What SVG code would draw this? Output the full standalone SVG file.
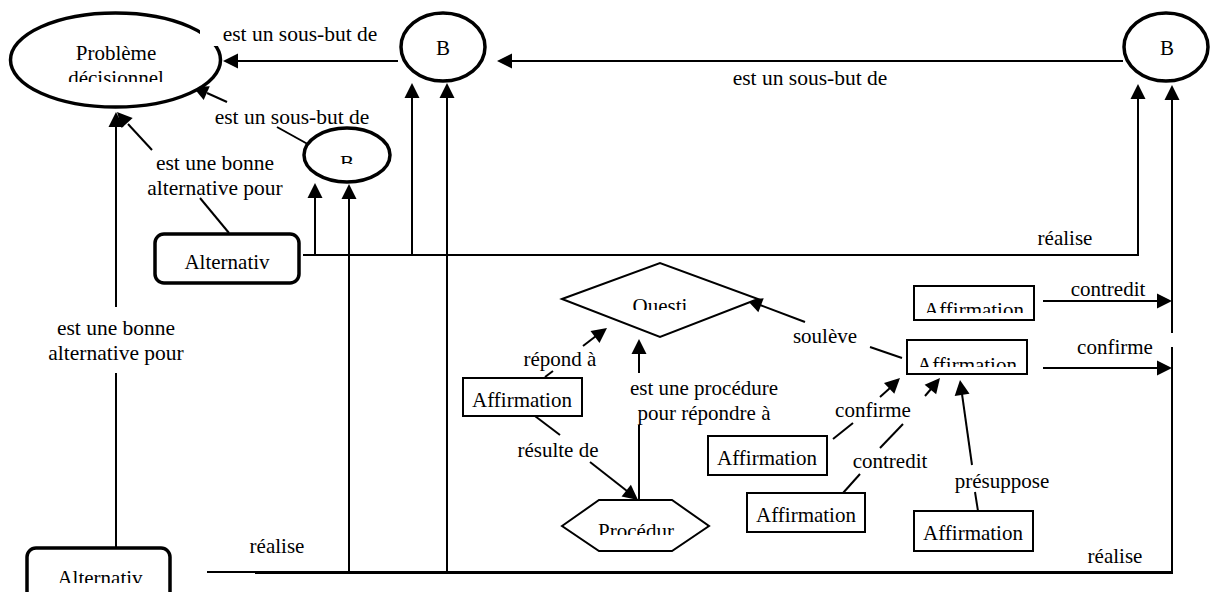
<svg xmlns="http://www.w3.org/2000/svg" width="1214" height="592" viewBox="0 0 1214 592">
<style>
.thick{fill:#fff;stroke:#000;stroke-width:3.5}
.box{fill:#fff;stroke:#000;stroke-width:2}
.c{fill:none;stroke:#000;stroke-width:2}
.ah{fill:#000;stroke:none}
.m{fill:#fff;stroke:none}
</style>
<rect width="1214" height="592" fill="#fff"/>

<g id="connectors">
  <line class="c" x1="398" y1="61" x2="236" y2="61"/>
  <polygon class="ah" points="223,61 238,53.5 238,68.5"/>
  <line class="c" x1="1123" y1="61" x2="510" y2="61"/>
  <polygon class="ah" points="497,61 512,53.5 512,68.5"/>
  <line class="c" x1="313" y1="147" x2="277" y2="127"/>
  <line class="c" x1="227" y1="102" x2="207" y2="93"/>
  <polygon class="ah" points="193,87 209.75,86.2 203.69,99.92"/>
  <line class="c" x1="229" y1="233" x2="200" y2="198"/>
  <line class="c" x1="152" y1="150" x2="128" y2="124"/>
  <polygon class="ah" points="117,112 132.68,117.95 121.64,128.11"/>
  <line class="c" x1="116" y1="548" x2="116" y2="373"/>
  <line class="c" x1="116" y1="307" x2="116" y2="126"/>
  <polygon class="ah" points="116,112 108.5,127 123.5,127"/>
  <line class="c" x1="303" y1="255" x2="1139" y2="255"/>
  <line class="c" x1="315" y1="256" x2="315" y2="197"/>
  <polygon class="ah" points="315,183 307.5,198 322.5,198"/>
  <line class="c" x1="412" y1="256" x2="412" y2="97"/>
  <polygon class="ah" points="412,83 404.5,98 419.5,98"/>
  <line class="c" x1="1138" y1="256" x2="1138" y2="98"/>
  <polygon class="ah" points="1138,84 1130.5,99 1145.5,99"/>
  <line class="c" x1="207" y1="572" x2="1173" y2="572"/>
  <line class="c" x1="255" y1="573" x2="1173" y2="573"/>
  <line class="c" x1="349" y1="573" x2="349" y2="198"/>
  <polygon class="ah" points="349,184 341.5,199 356.5,199"/>
  <line class="c" x1="447" y1="573" x2="447" y2="97"/>
  <polygon class="ah" points="447,83 439.5,98 454.5,98"/>
  <line class="c" x1="1172" y1="573" x2="1172" y2="347"/>
  <line class="c" x1="1172" y1="333" x2="1172" y2="99"/>
  <polygon class="ah" points="1172,85 1164.5,100 1179.5,100"/>
  <line class="c" x1="1043" y1="301" x2="1158" y2="301"/>
  <polygon class="ah" points="1172,301 1157,293.5 1157,308.5"/>
  <line class="c" x1="1043" y1="368" x2="1158" y2="368"/>
  <polygon class="ah" points="1172,368 1157,360.5 1157,375.5"/>
  <line class="c" x1="902" y1="358" x2="870" y2="347"/>
  <line class="c" x1="805" y1="322" x2="760" y2="305"/>
  <polygon class="ah" points="747,300 763.69,298.31 758.37,312.33"/>
  <line class="c" x1="545" y1="377" x2="553" y2="371"/>
  <line class="c" x1="583" y1="346" x2="596" y2="336"/>
  <polygon class="ah" points="607,328 599.5,343 590.5,331"/>
  <line class="c" x1="639" y1="500" x2="639" y2="425"/>
  <line class="c" x1="639" y1="373" x2="639" y2="353"/>
  <polygon class="ah" points="639,339 631.5,354 646.5,354"/>
  <line class="c" x1="527" y1="410" x2="560" y2="435"/>
  <line class="c" x1="590" y1="462" x2="627" y2="491"/>
  <polygon class="ah" points="638,500 621.58,496.57 630.9,484.81"/>
  <line class="c" x1="833" y1="439" x2="853" y2="423"/>
  <line class="c" x1="880" y1="397" x2="890" y2="388"/>
  <polygon class="ah" points="900,378 894.3,393.77 883.96,382.89"/>
  <line class="c" x1="843" y1="493" x2="860" y2="474"/>
  <line class="c" x1="880" y1="448" x2="903" y2="424"/>
  <line class="c" x1="925" y1="396" x2="931" y2="389"/>
  <polygon class="ah" points="940,378 936.16,394.32 924.64,384.72"/>
  <line class="c" x1="978" y1="511" x2="975" y2="492"/>
  <line class="c" x1="972" y1="465" x2="962" y2="394"/>
  <polygon class="ah" points="960,380 969.53,393.8 954.67,395.9"/>
</g>

<g id="n_probleme">
  <ellipse class="thick" cx="115.5" cy="60" rx="105" ry="47"/>
  <text x="116" y="60" font-family="Liberation Serif" font-size="21" text-anchor="middle">Problème</text>
  <text x="116" y="85" font-family="Liberation Serif" font-size="21" text-anchor="middle">décisionnel</text>
  <rect class="m" x="55" y="82" width="122" height="8"/>
</g>
<g id="n_b_middle">
  <ellipse class="thick" cx="443" cy="47" rx="42" ry="34"/>
  <text x="443" y="55" font-family="Liberation Serif" font-size="21" text-anchor="middle">B</text>
</g>
<g id="n_b_right">
  <ellipse class="thick" cx="1166" cy="47" rx="42" ry="34"/>
  <text x="1167" y="55" font-family="Liberation Serif" font-size="21" text-anchor="middle">B</text>
</g>
<g id="n_b_small">
  <ellipse class="thick" cx="347" cy="155" rx="43" ry="27"/>
  <text x="347" y="170" font-family="Liberation Serif" font-size="21" text-anchor="middle">B</text>
  <rect class="m" x="333" y="164" width="28" height="8"/>
</g>
<g id="n_alt_upper">
  <rect class="thick" x="155" y="234" width="144" height="49" rx="9"/>
  <text x="227" y="269" font-family="Liberation Serif" font-size="21" text-anchor="middle">Alternativ</text>
</g>
<g id="n_alt_lower">
  <rect class="thick" x="27" y="548" width="143" height="62" rx="9"/>
  <text x="100" y="585" font-family="Liberation Serif" font-size="21" text-anchor="middle">Alternativ</text>
  <rect class="m" x="40" y="583" width="120" height="9"/>
</g>
<g id="n_question">
  <polygon class="box" points="562,299 660,263 758,299 660,337"/>
  <text x="660" y="313" font-family="Liberation Serif" font-size="21" text-anchor="middle">Questi</text>
  <rect class="m" x="626" y="310" width="68" height="8"/>
</g>
<g id="n_procedure">
  <polygon class="box" points="562,526 599,500 672,500 709,526 672,551 599,551"/>
  <text x="636" y="538" font-family="Liberation Serif" font-size="21" text-anchor="middle">Procédur</text>
  <rect class="m" x="592" y="535" width="88" height="6"/>
</g>
<g id="n_aff1">
  <rect class="box" x="914" y="286" width="120" height="34"/>
  <text x="974" y="317" font-family="Liberation Serif" font-size="21" text-anchor="middle">Affirmation</text>
  <rect class="m" x="916" y="313" width="116" height="5"/>
</g>
<g id="n_aff2">
  <rect class="box" x="907" y="340" width="120" height="34"/>
  <text x="967" y="372" font-family="Liberation Serif" font-size="21" text-anchor="middle">Affirmation</text>
  <rect class="m" x="909" y="367" width="116" height="5"/>
</g>
<g id="n_aff3">
  <rect class="box" x="463" y="378" width="119" height="38"/>
  <text x="522" y="407" font-family="Liberation Serif" font-size="21" text-anchor="middle">Affirmation</text>
</g>
<g id="n_aff4">
  <rect class="box" x="708" y="436" width="119" height="39"/>
  <text x="767" y="465" font-family="Liberation Serif" font-size="21" text-anchor="middle">Affirmation</text>
</g>
<g id="n_aff5">
  <rect class="box" x="747" y="493" width="118" height="39"/>
  <text x="806" y="522" font-family="Liberation Serif" font-size="21" text-anchor="middle">Affirmation</text>
</g>
<g id="n_aff6">
  <rect class="box" x="914" y="511" width="119" height="40"/>
  <text x="973" y="540" font-family="Liberation Serif" font-size="21" text-anchor="middle">Affirmation</text>
</g>

<g id="labels">
  <rect x="200" y="24" width="182" height="22" fill="#fff"/>
  <text x="300" y="41" font-family="Liberation Serif" font-size="21.5" text-anchor="middle">est un sous-but de</text>
  <text x="810" y="85" font-family="Liberation Serif" font-size="21.5" text-anchor="middle">est un sous-but de</text>
  <text x="292" y="124" font-family="Liberation Serif" font-size="21.5" text-anchor="middle">est un sous-but de</text>
  <text x="215" y="170" font-family="Liberation Serif" font-size="21.5" text-anchor="middle">est une bonne</text>
  <text x="215" y="195" font-family="Liberation Serif" font-size="21.5" text-anchor="middle">alternative pour</text>
  <text x="116" y="335" font-family="Liberation Serif" font-size="21.5" text-anchor="middle">est une bonne</text>
  <text x="116" y="360" font-family="Liberation Serif" font-size="21.5" text-anchor="middle">alternative pour</text>
  <text x="1065" y="245" font-family="Liberation Serif" font-size="21" text-anchor="middle">réalise</text>
  <text x="277" y="553" font-family="Liberation Serif" font-size="21" text-anchor="middle">réalise</text>
  <text x="1115" y="563" font-family="Liberation Serif" font-size="21" text-anchor="middle">réalise</text>
  <text x="1108" y="296" font-family="Liberation Serif" font-size="21" text-anchor="middle">contredit</text>
  <text x="1115" y="354" font-family="Liberation Serif" font-size="21" text-anchor="middle">confirme</text>
  <text x="825" y="343" font-family="Liberation Serif" font-size="21" text-anchor="middle">soulève</text>
  <text x="560" y="366" font-family="Liberation Serif" font-size="21" text-anchor="middle">répond à</text>
  <text x="704" y="395" font-family="Liberation Serif" font-size="21" text-anchor="middle">est une procédure</text>
  <text x="704" y="420" font-family="Liberation Serif" font-size="21" text-anchor="middle">pour répondre à</text>
  <text x="558" y="457" font-family="Liberation Serif" font-size="21" text-anchor="middle">résulte de</text>
  <text x="873" y="417" font-family="Liberation Serif" font-size="21" text-anchor="middle">confirme</text>
  <text x="890" y="468" font-family="Liberation Serif" font-size="21" text-anchor="middle">contredit</text>
  <text x="1002" y="488" font-family="Liberation Serif" font-size="21" text-anchor="middle">présuppose</text>
</g>
</svg>
